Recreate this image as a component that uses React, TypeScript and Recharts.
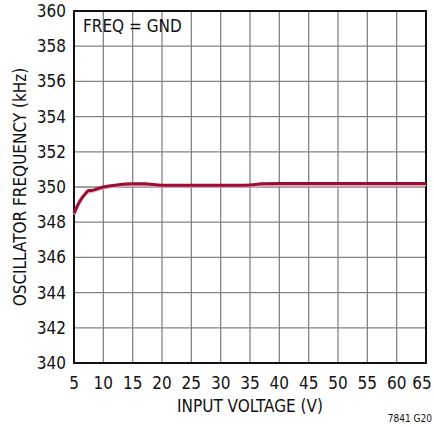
import React from 'react';
import {
  CartesianGrid,
  Line,
  LineChart,
  ReferenceArea,
  XAxis,
  YAxis,
} from 'recharts';

const voltage = [5, 6, 7, 7.5, 8, 9, 10, 12, 15, 17, 20, 25, 30, 33, 35, 37, 40, 45, 50, 55, 60, 65];
const freqMain = [
  348.5, 349.2, 349.65, 349.8, 349.8, 349.9, 350.0, 350.1, 350.18, 350.18, 350.1, 350.1,
  350.1, 350.1, 350.12, 350.18, 350.2, 350.2, 350.2, 350.2, 350.2, 350.2,
];
const freqLow = [
  348.45, 349.15, 349.6, 349.72, 349.74, 349.84, 349.94, 350.04, 350.1, 350.1, 350.05, 350.05,
  350.05, 350.05, 350.06, 350.1, 350.12, 350.12, 350.12, 350.12, 350.12, 350.12,
];
const xTicks = [5, 10, 15, 20, 25, 30, 35, 40, 45, 50, 55, 60, 65];
const yTicks = [340, 342, 344, 346, 348, 350, 352, 354, 356, 358, 360];

const data = voltage.map((v, i) => ({ v, main: freqMain[i], low: freqLow[i] }));

const font = "'Liberation Sans Narrow', 'DejaVu Sans Condensed', 'Roboto', sans-serif";

// last label sits right at the window edge, nudge it in a little
function XTick(props: any) {
  const { x, y, payload } = props;
  const last = payload.value === xTicks[xTicks.length - 1];
  return (
    <text
      x={last ? x - 4 : x}
      y={y + 6}
      dy="0.71em"
      textAnchor="middle"
      fill="#111"
      fontSize={17}
      fontFamily={font}
    >
      {payload.value}
    </text>
  );
}

export default function App() {
  return (
    <div style={{ position: 'absolute', left: 0, top: 0, width: 434, height: 427, fontFamily: font, background: '#fff' }}>
      <LineChart
        width={434}
        height={427}
        data={data}
        margin={{ top: 11, right: 8, bottom: 0, left: 8 }}
      >
        <CartesianGrid stroke="#848484" strokeWidth={1.3} />
        <XAxis
          dataKey="v"
          type="number"
          domain={[5, 65]}
          ticks={xTicks}
          height={64}
          axisLine={false}
          tickLine={false}
          interval={0}
          tick={<XTick />}
        />
        <YAxis
          type="number"
          domain={[340, 360]}
          ticks={yTicks}
          width={66}
          axisLine={false}
          tickLine={false}
          interval={0}
          tick={{ fill: '#111', fontSize: 17, fontFamily: font }}
          tickMargin={2}
        />
        <ReferenceArea x1={5} x2={65} y1={340} y2={360} fill="none" stroke="#111" strokeWidth={2} />
        <Line dataKey="low" type="monotone" stroke="#e3aab8" strokeWidth={3} dot={false} isAnimationActive={false} />
        <Line dataKey="main" type="monotone" stroke="#9b0d35" strokeWidth={3} dot={false} isAnimationActive={false} />
      </LineChart>
      <div style={{ position: 'absolute', left: 83, top: 16, fontSize: 17, color: '#111' }}>FREQ = GND</div>
      <div style={{ position: 'absolute', left: 74, width: 352, top: 396, textAlign: 'center', fontSize: 17, color: '#111' }}>
        INPUT VOLTAGE (V)
      </div>
      <div style={{ position: 'absolute', right: 2, top: 413, fontSize: 10, color: '#111' }}>7841 G20</div>
      <div
        style={{
          position: 'absolute',
          left: 20,
          top: 187,
          fontSize: 17,
          color: '#111',
          whiteSpace: 'nowrap',
          transform: 'translate(-50%, -50%) rotate(-90deg)',
        }}
      >
        OSCILLATOR FREQUENCY (kHz)
      </div>
    </div>
  );
}
